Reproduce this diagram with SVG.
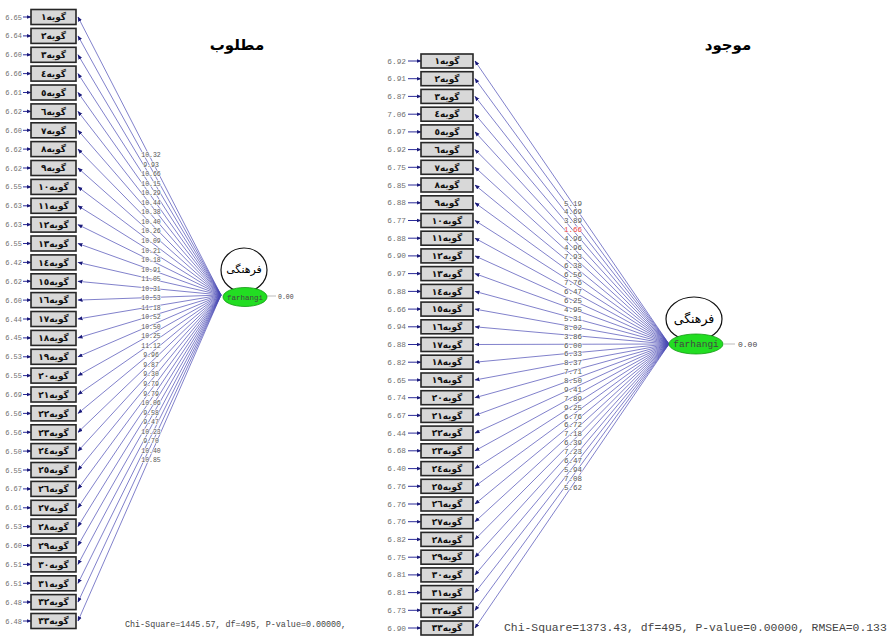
<svg xmlns="http://www.w3.org/2000/svg" width="892" height="637" viewBox="0 0 892 637">
<style>
.bx{fill:#d8d8d8;stroke:#262626;stroke-width:1.6}
.bt{font-family:"DejaVu Sans",sans-serif;font-size:9px;font-weight:bold;text-anchor:middle;fill:#111}
.ev{font-family:"Liberation Mono",monospace;font-size:7px;fill:#707070;text-anchor:end}
.evr{font-family:"Liberation Mono",monospace;font-size:7.8px;fill:#707070;text-anchor:end}
.p{stroke:#4a4ab4;stroke-width:0.7;fill:none;marker-end:url(#ah)}
.e{stroke:#2a2a9a;stroke-width:1;fill:none;marker-end:url(#ah)}
.cf{font-family:"Liberation Mono",monospace;font-size:6.5px;fill:#555;text-anchor:middle;stroke:#fff;stroke-opacity:0.8;stroke-width:1.5;paint-order:stroke}
.cfr{font-family:"Liberation Mono",monospace;font-size:7.5px;fill:#555;text-anchor:middle;stroke:#fff;stroke-opacity:0.8;stroke-width:1.5;paint-order:stroke}
.ttl{font-family:"DejaVu Sans",sans-serif;font-weight:bold;text-anchor:middle;fill:#000}
.lv{font-family:"DejaVu Sans",sans-serif;font-weight:normal;text-anchor:middle;fill:#000}
.lat{fill:#fff;stroke:#111;stroke-width:1.2}
.grn{fill:#22dd22;stroke:#119911;stroke-width:0.8}
.gl{stroke:#aaa;stroke-width:0.8}
.mono{font-family:"Liberation Mono",monospace;fill:#444}
</style>
<defs>
<marker id="ah" viewBox="0 0 10 10" refX="9" refY="5" markerWidth="5" markerHeight="5" orient="auto" markerUnits="userSpaceOnUse"><path d="M0,1 L10,5 L0,9 z" fill="#1a1a7a"/></marker>
</defs>
<rect width="892" height="637" fill="#fff"/>

<text class="ttl" x="237" y="50" font-size="15">مطلوب</text>
<text class="ttl" x="728" y="50" font-size="15">موجود</text>

<g id="connectors">
<g id="paths-left">
<line class="p" x1="221" y1="295" x2="78" y2="17.0"/>
<line class="p" x1="221" y1="295" x2="78" y2="35.9"/>
<line class="p" x1="221" y1="295" x2="78" y2="54.8"/>
<line class="p" x1="221" y1="295" x2="78" y2="73.6"/>
<line class="p" x1="221" y1="295" x2="78" y2="92.5"/>
<line class="p" x1="221" y1="295" x2="78" y2="111.4"/>
<line class="p" x1="221" y1="295" x2="78" y2="130.3"/>
<line class="p" x1="221" y1="295" x2="78" y2="149.1"/>
<line class="p" x1="221" y1="295" x2="78" y2="168.0"/>
<line class="p" x1="221" y1="295" x2="78" y2="186.9"/>
<line class="p" x1="221" y1="295" x2="78" y2="205.8"/>
<line class="p" x1="221" y1="295" x2="78" y2="224.6"/>
<line class="p" x1="221" y1="295" x2="78" y2="243.5"/>
<line class="p" x1="221" y1="295" x2="78" y2="262.4"/>
<line class="p" x1="221" y1="295" x2="78" y2="281.3"/>
<line class="p" x1="221" y1="295" x2="78" y2="300.1"/>
<line class="p" x1="221" y1="295" x2="78" y2="319.0"/>
<line class="p" x1="221" y1="295" x2="78" y2="337.9"/>
<line class="p" x1="221" y1="295" x2="78" y2="356.8"/>
<line class="p" x1="221" y1="295" x2="78" y2="375.6"/>
<line class="p" x1="221" y1="295" x2="78" y2="394.5"/>
<line class="p" x1="221" y1="295" x2="78" y2="413.4"/>
<line class="p" x1="221" y1="295" x2="78" y2="432.3"/>
<line class="p" x1="221" y1="295" x2="78" y2="451.1"/>
<line class="p" x1="221" y1="295" x2="78" y2="470.0"/>
<line class="p" x1="221" y1="295" x2="78" y2="488.9"/>
<line class="p" x1="221" y1="295" x2="78" y2="507.8"/>
<line class="p" x1="221" y1="295" x2="78" y2="526.6"/>
<line class="p" x1="221" y1="295" x2="78" y2="545.5"/>
<line class="p" x1="221" y1="295" x2="78" y2="564.4"/>
<line class="p" x1="221" y1="295" x2="78" y2="583.3"/>
<line class="p" x1="221" y1="295" x2="78" y2="602.1"/>
<line class="p" x1="221" y1="295" x2="78" y2="621.0"/>
</g>
<g id="paths-right">
<line class="p" x1="669" y1="344" x2="475" y2="61.0"/>
<line class="p" x1="669" y1="344" x2="475" y2="78.7"/>
<line class="p" x1="669" y1="344" x2="475" y2="96.4"/>
<line class="p" x1="669" y1="344" x2="475" y2="114.2"/>
<line class="p" x1="669" y1="344" x2="475" y2="131.9"/>
<line class="p" x1="669" y1="344" x2="475" y2="149.6"/>
<line class="p" x1="669" y1="344" x2="475" y2="167.3"/>
<line class="p" x1="669" y1="344" x2="475" y2="185.0"/>
<line class="p" x1="669" y1="344" x2="475" y2="202.8"/>
<line class="p" x1="669" y1="344" x2="475" y2="220.5"/>
<line class="p" x1="669" y1="344" x2="475" y2="238.2"/>
<line class="p" x1="669" y1="344" x2="475" y2="255.9"/>
<line class="p" x1="669" y1="344" x2="475" y2="273.6"/>
<line class="p" x1="669" y1="344" x2="475" y2="291.4"/>
<line class="p" x1="669" y1="344" x2="475" y2="309.1"/>
<line class="p" x1="669" y1="344" x2="475" y2="326.8"/>
<line class="p" x1="669" y1="344" x2="475" y2="344.5"/>
<line class="p" x1="669" y1="344" x2="475" y2="362.2"/>
<line class="p" x1="669" y1="344" x2="475" y2="380.0"/>
<line class="p" x1="669" y1="344" x2="475" y2="397.7"/>
<line class="p" x1="669" y1="344" x2="475" y2="415.4"/>
<line class="p" x1="669" y1="344" x2="475" y2="433.1"/>
<line class="p" x1="669" y1="344" x2="475" y2="450.8"/>
<line class="p" x1="669" y1="344" x2="475" y2="468.6"/>
<line class="p" x1="669" y1="344" x2="475" y2="486.3"/>
<line class="p" x1="669" y1="344" x2="475" y2="504.0"/>
<line class="p" x1="669" y1="344" x2="475" y2="521.7"/>
<line class="p" x1="669" y1="344" x2="475" y2="539.4"/>
<line class="p" x1="669" y1="344" x2="475" y2="557.2"/>
<line class="p" x1="669" y1="344" x2="475" y2="574.9"/>
<line class="p" x1="669" y1="344" x2="475" y2="592.6"/>
<line class="p" x1="669" y1="344" x2="475" y2="610.3"/>
<line class="p" x1="669" y1="344" x2="475" y2="628.0"/>
</g>
<g id="errors-left">
<line class="e" x1="23" y1="17.0" x2="31" y2="17.0"/>
<line class="e" x1="23" y1="35.9" x2="31" y2="35.9"/>
<line class="e" x1="23" y1="54.8" x2="31" y2="54.8"/>
<line class="e" x1="23" y1="73.6" x2="31" y2="73.6"/>
<line class="e" x1="23" y1="92.5" x2="31" y2="92.5"/>
<line class="e" x1="23" y1="111.4" x2="31" y2="111.4"/>
<line class="e" x1="23" y1="130.3" x2="31" y2="130.3"/>
<line class="e" x1="23" y1="149.1" x2="31" y2="149.1"/>
<line class="e" x1="23" y1="168.0" x2="31" y2="168.0"/>
<line class="e" x1="23" y1="186.9" x2="31" y2="186.9"/>
<line class="e" x1="23" y1="205.8" x2="31" y2="205.8"/>
<line class="e" x1="23" y1="224.6" x2="31" y2="224.6"/>
<line class="e" x1="23" y1="243.5" x2="31" y2="243.5"/>
<line class="e" x1="23" y1="262.4" x2="31" y2="262.4"/>
<line class="e" x1="23" y1="281.3" x2="31" y2="281.3"/>
<line class="e" x1="23" y1="300.1" x2="31" y2="300.1"/>
<line class="e" x1="23" y1="319.0" x2="31" y2="319.0"/>
<line class="e" x1="23" y1="337.9" x2="31" y2="337.9"/>
<line class="e" x1="23" y1="356.8" x2="31" y2="356.8"/>
<line class="e" x1="23" y1="375.6" x2="31" y2="375.6"/>
<line class="e" x1="23" y1="394.5" x2="31" y2="394.5"/>
<line class="e" x1="23" y1="413.4" x2="31" y2="413.4"/>
<line class="e" x1="23" y1="432.3" x2="31" y2="432.3"/>
<line class="e" x1="23" y1="451.1" x2="31" y2="451.1"/>
<line class="e" x1="23" y1="470.0" x2="31" y2="470.0"/>
<line class="e" x1="23" y1="488.9" x2="31" y2="488.9"/>
<line class="e" x1="23" y1="507.8" x2="31" y2="507.8"/>
<line class="e" x1="23" y1="526.6" x2="31" y2="526.6"/>
<line class="e" x1="23" y1="545.5" x2="31" y2="545.5"/>
<line class="e" x1="23" y1="564.4" x2="31" y2="564.4"/>
<line class="e" x1="23" y1="583.3" x2="31" y2="583.3"/>
<line class="e" x1="23" y1="602.1" x2="31" y2="602.1"/>
<line class="e" x1="23" y1="621.0" x2="31" y2="621.0"/>
</g>
<g id="errors-right">
<line class="e" x1="408" y1="61.0" x2="421" y2="61.0"/>
<line class="e" x1="408" y1="78.7" x2="421" y2="78.7"/>
<line class="e" x1="408" y1="96.4" x2="421" y2="96.4"/>
<line class="e" x1="408" y1="114.2" x2="421" y2="114.2"/>
<line class="e" x1="408" y1="131.9" x2="421" y2="131.9"/>
<line class="e" x1="408" y1="149.6" x2="421" y2="149.6"/>
<line class="e" x1="408" y1="167.3" x2="421" y2="167.3"/>
<line class="e" x1="408" y1="185.0" x2="421" y2="185.0"/>
<line class="e" x1="408" y1="202.8" x2="421" y2="202.8"/>
<line class="e" x1="408" y1="220.5" x2="421" y2="220.5"/>
<line class="e" x1="408" y1="238.2" x2="421" y2="238.2"/>
<line class="e" x1="408" y1="255.9" x2="421" y2="255.9"/>
<line class="e" x1="408" y1="273.6" x2="421" y2="273.6"/>
<line class="e" x1="408" y1="291.4" x2="421" y2="291.4"/>
<line class="e" x1="408" y1="309.1" x2="421" y2="309.1"/>
<line class="e" x1="408" y1="326.8" x2="421" y2="326.8"/>
<line class="e" x1="408" y1="344.5" x2="421" y2="344.5"/>
<line class="e" x1="408" y1="362.2" x2="421" y2="362.2"/>
<line class="e" x1="408" y1="380.0" x2="421" y2="380.0"/>
<line class="e" x1="408" y1="397.7" x2="421" y2="397.7"/>
<line class="e" x1="408" y1="415.4" x2="421" y2="415.4"/>
<line class="e" x1="408" y1="433.1" x2="421" y2="433.1"/>
<line class="e" x1="408" y1="450.8" x2="421" y2="450.8"/>
<line class="e" x1="408" y1="468.6" x2="421" y2="468.6"/>
<line class="e" x1="408" y1="486.3" x2="421" y2="486.3"/>
<line class="e" x1="408" y1="504.0" x2="421" y2="504.0"/>
<line class="e" x1="408" y1="521.7" x2="421" y2="521.7"/>
<line class="e" x1="408" y1="539.4" x2="421" y2="539.4"/>
<line class="e" x1="408" y1="557.2" x2="421" y2="557.2"/>
<line class="e" x1="408" y1="574.9" x2="421" y2="574.9"/>
<line class="e" x1="408" y1="592.6" x2="421" y2="592.6"/>
<line class="e" x1="408" y1="610.3" x2="421" y2="610.3"/>
<line class="e" x1="408" y1="628.0" x2="421" y2="628.0"/>
</g>
<line class="gl" x1="267" y1="296" x2="276" y2="296"/>
<line class="gl" x1="724" y1="344" x2="735" y2="344"/>
</g>

<g id="coef-left" class="cf">
<text x="151" y="157.2">10.32</text>
<text x="151" y="166.7">9.93</text>
<text x="151" y="176.3">10.66</text>
<text x="151" y="185.8">10.15</text>
<text x="151" y="195.3">10.29</text>
<text x="151" y="204.9">10.44</text>
<text x="151" y="214.4">10.38</text>
<text x="151" y="223.9">10.40</text>
<text x="151" y="233.4">10.26</text>
<text x="151" y="243.0">10.09</text>
<text x="151" y="252.5">10.21</text>
<text x="151" y="262.0">10.18</text>
<text x="151" y="271.6">10.91</text>
<text x="151" y="281.1">11.05</text>
<text x="151" y="290.6">10.31</text>
<text x="151" y="300.2">10.53</text>
<text x="151" y="309.7">11.18</text>
<text x="151" y="319.2">10.52</text>
<text x="151" y="328.7">10.50</text>
<text x="151" y="338.3">10.25</text>
<text x="151" y="347.8">11.12</text>
<text x="151" y="357.3">9.96</text>
<text x="151" y="366.9">9.87</text>
<text x="151" y="376.4">9.30</text>
<text x="151" y="385.9">9.79</text>
<text x="151" y="395.5">9.79</text>
<text x="151" y="405.0">10.06</text>
<text x="151" y="414.5">9.58</text>
<text x="151" y="424.0">9.47</text>
<text x="151" y="433.6">10.23</text>
<text x="151" y="443.1">9.70</text>
<text x="151" y="452.6">10.40</text>
<text x="151" y="462.2">10.85</text>
</g>
<g id="coef-right" class="cfr">
<text x="573" y="205.5">5.19</text>
<text x="573" y="214.4">4.69</text>
<text x="573" y="223.3">3.89</text>
<text x="573" y="232.1" fill="#ee4444">1.66</text>
<text x="573" y="241.0">4.96</text>
<text x="573" y="249.9">4.96</text>
<text x="573" y="258.8">7.93</text>
<text x="573" y="267.6">6.38</text>
<text x="573" y="276.5">6.56</text>
<text x="573" y="285.4">7.76</text>
<text x="573" y="294.3">6.47</text>
<text x="573" y="303.1">6.25</text>
<text x="573" y="312.0">4.95</text>
<text x="573" y="320.9">5.31</text>
<text x="573" y="329.8">8.02</text>
<text x="573" y="338.6">3.86</text>
<text x="573" y="347.5">6.00</text>
<text x="573" y="356.4">6.33</text>
<text x="573" y="365.3">8.37</text>
<text x="573" y="374.1">7.71</text>
<text x="573" y="383.0">8.50</text>
<text x="573" y="391.9">9.41</text>
<text x="573" y="400.8">7.89</text>
<text x="573" y="409.6">9.25</text>
<text x="573" y="418.5">6.76</text>
<text x="573" y="427.4">6.72</text>
<text x="573" y="436.3">7.18</text>
<text x="573" y="445.1">6.39</text>
<text x="573" y="454.0">7.23</text>
<text x="573" y="462.9">6.47</text>
<text x="573" y="471.8">5.94</text>
<text x="573" y="480.6">7.08</text>
<text x="573" y="489.5">5.62</text>
</g>

<g id="L1"><text class="ev" x="22" y="19.5">6.65</text><rect class="bx" x="31" y="9.5" width="45" height="15"/><text class="bt" x="53.5" y="20.2">گویه١</text></g>
<g id="L2"><text class="ev" x="22" y="38.4">6.64</text><rect class="bx" x="31" y="28.4" width="45" height="15"/><text class="bt" x="53.5" y="39.1">گویه٢</text></g>
<g id="L3"><text class="ev" x="22" y="57.3">6.60</text><rect class="bx" x="31" y="47.3" width="45" height="15"/><text class="bt" x="53.5" y="58.0">گویه٣</text></g>
<g id="L4"><text class="ev" x="22" y="76.1">6.66</text><rect class="bx" x="31" y="66.1" width="45" height="15"/><text class="bt" x="53.5" y="76.8">گویه٤</text></g>
<g id="L5"><text class="ev" x="22" y="95.0">6.61</text><rect class="bx" x="31" y="85.0" width="45" height="15"/><text class="bt" x="53.5" y="95.7">گویه٥</text></g>
<g id="L6"><text class="ev" x="22" y="113.9">6.62</text><rect class="bx" x="31" y="103.9" width="45" height="15"/><text class="bt" x="53.5" y="114.6">گویه٦</text></g>
<g id="L7"><text class="ev" x="22" y="132.8">6.60</text><rect class="bx" x="31" y="122.8" width="45" height="15"/><text class="bt" x="53.5" y="133.5">گویه٧</text></g>
<g id="L8"><text class="ev" x="22" y="151.6">6.62</text><rect class="bx" x="31" y="141.6" width="45" height="15"/><text class="bt" x="53.5" y="152.3">گویه٨</text></g>
<g id="L9"><text class="ev" x="22" y="170.5">6.62</text><rect class="bx" x="31" y="160.5" width="45" height="15"/><text class="bt" x="53.5" y="171.2">گویه٩</text></g>
<g id="L10"><text class="ev" x="22" y="189.4">6.55</text><rect class="bx" x="31" y="179.4" width="45" height="15"/><text class="bt" x="53.5" y="190.1">گویه١٠</text></g>
<g id="L11"><text class="ev" x="22" y="208.3">6.63</text><rect class="bx" x="31" y="198.3" width="45" height="15"/><text class="bt" x="53.5" y="209.0">گویه١١</text></g>
<g id="L12"><text class="ev" x="22" y="227.1">6.63</text><rect class="bx" x="31" y="217.1" width="45" height="15"/><text class="bt" x="53.5" y="227.8">گویه١٢</text></g>
<g id="L13"><text class="ev" x="22" y="246.0">6.55</text><rect class="bx" x="31" y="236.0" width="45" height="15"/><text class="bt" x="53.5" y="246.7">گویه١٣</text></g>
<g id="L14"><text class="ev" x="22" y="264.9">6.42</text><rect class="bx" x="31" y="254.9" width="45" height="15"/><text class="bt" x="53.5" y="265.6">گویه١٤</text></g>
<g id="L15"><text class="ev" x="22" y="283.8">6.62</text><rect class="bx" x="31" y="273.8" width="45" height="15"/><text class="bt" x="53.5" y="284.5">گویه١٥</text></g>
<g id="L16"><text class="ev" x="22" y="302.6">6.60</text><rect class="bx" x="31" y="292.6" width="45" height="15"/><text class="bt" x="53.5" y="303.3">گویه١٦</text></g>
<g id="L17"><text class="ev" x="22" y="321.5">6.44</text><rect class="bx" x="31" y="311.5" width="45" height="15"/><text class="bt" x="53.5" y="322.2">گویه١٧</text></g>
<g id="L18"><text class="ev" x="22" y="340.4">6.45</text><rect class="bx" x="31" y="330.4" width="45" height="15"/><text class="bt" x="53.5" y="341.1">گویه١٨</text></g>
<g id="L19"><text class="ev" x="22" y="359.3">6.53</text><rect class="bx" x="31" y="349.3" width="45" height="15"/><text class="bt" x="53.5" y="360.0">گویه١٩</text></g>
<g id="L20"><text class="ev" x="22" y="378.1">6.55</text><rect class="bx" x="31" y="368.1" width="45" height="15"/><text class="bt" x="53.5" y="378.8">گویه٢٠</text></g>
<g id="L21"><text class="ev" x="22" y="397.0">6.69</text><rect class="bx" x="31" y="387.0" width="45" height="15"/><text class="bt" x="53.5" y="397.7">گویه٢١</text></g>
<g id="L22"><text class="ev" x="22" y="415.9">6.56</text><rect class="bx" x="31" y="405.9" width="45" height="15"/><text class="bt" x="53.5" y="416.6">گویه٢٢</text></g>
<g id="L23"><text class="ev" x="22" y="434.8">6.56</text><rect class="bx" x="31" y="424.8" width="45" height="15"/><text class="bt" x="53.5" y="435.5">گویه٢٣</text></g>
<g id="L24"><text class="ev" x="22" y="453.6">6.50</text><rect class="bx" x="31" y="443.6" width="45" height="15"/><text class="bt" x="53.5" y="454.3">گویه٢٤</text></g>
<g id="L25"><text class="ev" x="22" y="472.5">6.55</text><rect class="bx" x="31" y="462.5" width="45" height="15"/><text class="bt" x="53.5" y="473.2">گویه٢٥</text></g>
<g id="L26"><text class="ev" x="22" y="491.4">6.67</text><rect class="bx" x="31" y="481.4" width="45" height="15"/><text class="bt" x="53.5" y="492.1">گویه٢٦</text></g>
<g id="L27"><text class="ev" x="22" y="510.3">6.61</text><rect class="bx" x="31" y="500.3" width="45" height="15"/><text class="bt" x="53.5" y="511.0">گویه٢٧</text></g>
<g id="L28"><text class="ev" x="22" y="529.1">6.53</text><rect class="bx" x="31" y="519.1" width="45" height="15"/><text class="bt" x="53.5" y="529.8">گویه٢٨</text></g>
<g id="L29"><text class="ev" x="22" y="548.0">6.60</text><rect class="bx" x="31" y="538.0" width="45" height="15"/><text class="bt" x="53.5" y="548.7">گویه٢٩</text></g>
<g id="L30"><text class="ev" x="22" y="566.9">6.51</text><rect class="bx" x="31" y="556.9" width="45" height="15"/><text class="bt" x="53.5" y="567.6">گویه٣٠</text></g>
<g id="L31"><text class="ev" x="22" y="585.8">6.51</text><rect class="bx" x="31" y="575.8" width="45" height="15"/><text class="bt" x="53.5" y="586.5">گویه٣١</text></g>
<g id="L32"><text class="ev" x="22" y="604.6">6.48</text><rect class="bx" x="31" y="594.6" width="45" height="15"/><text class="bt" x="53.5" y="605.3">گویه٣٢</text></g>
<g id="L33"><text class="ev" x="22" y="623.5">6.48</text><rect class="bx" x="31" y="613.5" width="45" height="15"/><text class="bt" x="53.5" y="624.2">گویه٣٣</text></g>

<g id="R1"><text class="evr" x="406" y="63.5">6.92</text><rect class="bx" x="421" y="54.0" width="52" height="14"/><text class="bt" x="447" y="64.2">گویه١</text></g>
<g id="R2"><text class="evr" x="406" y="81.2">6.91</text><rect class="bx" x="421" y="71.7" width="52" height="14"/><text class="bt" x="447" y="81.9">گویه٢</text></g>
<g id="R3"><text class="evr" x="406" y="98.9">6.87</text><rect class="bx" x="421" y="89.4" width="52" height="14"/><text class="bt" x="447" y="99.6">گویه٣</text></g>
<g id="R4"><text class="evr" x="406" y="116.7">7.06</text><rect class="bx" x="421" y="107.2" width="52" height="14"/><text class="bt" x="447" y="117.4">گویه٤</text></g>
<g id="R5"><text class="evr" x="406" y="134.4">6.97</text><rect class="bx" x="421" y="124.9" width="52" height="14"/><text class="bt" x="447" y="135.1">گویه٥</text></g>
<g id="R6"><text class="evr" x="406" y="152.1">6.92</text><rect class="bx" x="421" y="142.6" width="52" height="14"/><text class="bt" x="447" y="152.8">گویه٦</text></g>
<g id="R7"><text class="evr" x="406" y="169.8">6.75</text><rect class="bx" x="421" y="160.3" width="52" height="14"/><text class="bt" x="447" y="170.5">گویه٧</text></g>
<g id="R8"><text class="evr" x="406" y="187.5">6.85</text><rect class="bx" x="421" y="178.0" width="52" height="14"/><text class="bt" x="447" y="188.2">گویه٨</text></g>
<g id="R9"><text class="evr" x="406" y="205.3">6.88</text><rect class="bx" x="421" y="195.8" width="52" height="14"/><text class="bt" x="447" y="206.0">گویه٩</text></g>
<g id="R10"><text class="evr" x="406" y="223.0">6.77</text><rect class="bx" x="421" y="213.5" width="52" height="14"/><text class="bt" x="447" y="223.7">گویه١٠</text></g>
<g id="R11"><text class="evr" x="406" y="240.7">6.88</text><rect class="bx" x="421" y="231.2" width="52" height="14"/><text class="bt" x="447" y="241.4">گویه١١</text></g>
<g id="R12"><text class="evr" x="406" y="258.4">6.90</text><rect class="bx" x="421" y="248.9" width="52" height="14"/><text class="bt" x="447" y="259.1">گویه١٢</text></g>
<g id="R13"><text class="evr" x="406" y="276.1">6.97</text><rect class="bx" x="421" y="266.6" width="52" height="14"/><text class="bt" x="447" y="276.8">گویه١٣</text></g>
<g id="R14"><text class="evr" x="406" y="293.9">6.88</text><rect class="bx" x="421" y="284.4" width="52" height="14"/><text class="bt" x="447" y="294.6">گویه١٤</text></g>
<g id="R15"><text class="evr" x="406" y="311.6">6.66</text><rect class="bx" x="421" y="302.1" width="52" height="14"/><text class="bt" x="447" y="312.3">گویه١٥</text></g>
<g id="R16"><text class="evr" x="406" y="329.3">6.94</text><rect class="bx" x="421" y="319.8" width="52" height="14"/><text class="bt" x="447" y="330.0">گویه١٦</text></g>
<g id="R17"><text class="evr" x="406" y="347.0">6.88</text><rect class="bx" x="421" y="337.5" width="52" height="14"/><text class="bt" x="447" y="347.7">گویه١٧</text></g>
<g id="R18"><text class="evr" x="406" y="364.7">6.82</text><rect class="bx" x="421" y="355.2" width="52" height="14"/><text class="bt" x="447" y="365.4">گویه١٨</text></g>
<g id="R19"><text class="evr" x="406" y="382.5">6.65</text><rect class="bx" x="421" y="373.0" width="52" height="14"/><text class="bt" x="447" y="383.2">گویه١٩</text></g>
<g id="R20"><text class="evr" x="406" y="400.2">6.74</text><rect class="bx" x="421" y="390.7" width="52" height="14"/><text class="bt" x="447" y="400.9">گویه٢٠</text></g>
<g id="R21"><text class="evr" x="406" y="417.9">6.67</text><rect class="bx" x="421" y="408.4" width="52" height="14"/><text class="bt" x="447" y="418.6">گویه٢١</text></g>
<g id="R22"><text class="evr" x="406" y="435.6">6.44</text><rect class="bx" x="421" y="426.1" width="52" height="14"/><text class="bt" x="447" y="436.3">گویه٢٢</text></g>
<g id="R23"><text class="evr" x="406" y="453.3">6.68</text><rect class="bx" x="421" y="443.8" width="52" height="14"/><text class="bt" x="447" y="454.0">گویه٢٣</text></g>
<g id="R24"><text class="evr" x="406" y="471.1">6.40</text><rect class="bx" x="421" y="461.6" width="52" height="14"/><text class="bt" x="447" y="471.8">گویه٢٤</text></g>
<g id="R25"><text class="evr" x="406" y="488.8">6.76</text><rect class="bx" x="421" y="479.3" width="52" height="14"/><text class="bt" x="447" y="489.5">گویه٢٥</text></g>
<g id="R26"><text class="evr" x="406" y="506.5">6.76</text><rect class="bx" x="421" y="497.0" width="52" height="14"/><text class="bt" x="447" y="507.2">گویه٢٦</text></g>
<g id="R27"><text class="evr" x="406" y="524.2">6.76</text><rect class="bx" x="421" y="514.7" width="52" height="14"/><text class="bt" x="447" y="524.9">گویه٢٧</text></g>
<g id="R28"><text class="evr" x="406" y="541.9">6.82</text><rect class="bx" x="421" y="532.4" width="52" height="14"/><text class="bt" x="447" y="542.6">گویه٢٨</text></g>
<g id="R29"><text class="evr" x="406" y="559.7">6.75</text><rect class="bx" x="421" y="550.2" width="52" height="14"/><text class="bt" x="447" y="560.4">گویه٢٩</text></g>
<g id="R30"><text class="evr" x="406" y="577.4">6.81</text><rect class="bx" x="421" y="567.9" width="52" height="14"/><text class="bt" x="447" y="578.1">گویه٣٠</text></g>
<g id="R31"><text class="evr" x="406" y="595.1">6.81</text><rect class="bx" x="421" y="585.6" width="52" height="14"/><text class="bt" x="447" y="595.8">گویه٣١</text></g>
<g id="R32"><text class="evr" x="406" y="612.8">6.73</text><rect class="bx" x="421" y="603.3" width="52" height="14"/><text class="bt" x="447" y="613.5">گویه٣٢</text></g>
<g id="R33"><text class="evr" x="406" y="630.5">6.90</text><rect class="bx" x="421" y="621.0" width="52" height="14"/><text class="bt" x="447" y="631.2">گویه٣٣</text></g>

<g id="farhangi-left">
<ellipse class="lat" cx="244" cy="270" rx="23" ry="22"/>
<text class="lv" x="244" y="273" font-size="11">فرهنگی</text>
<ellipse class="grn" cx="245" cy="297" rx="22" ry="9.5"/>
<text class="mono" x="245" y="299.5" font-size="7.5" text-anchor="middle" fill="#113311">farhangi</text>
<text class="mono" x="278" y="298.5" font-size="6.5" fill="#888">0.00</text>
</g>
<g id="farhangi-right">
<ellipse class="lat" cx="694" cy="319" rx="28" ry="22"/>
<text class="lv" x="694" y="323" font-size="12.5">فرهنگی</text>
<ellipse class="grn" cx="696" cy="344" rx="27" ry="10"/>
<text class="mono" x="696" y="347" font-size="9.5" text-anchor="middle" fill="#113311">farhangi</text>
<text class="mono" x="738" y="347" font-size="8" fill="#888">0.00</text>
</g>

<text class="mono" x="125" y="627" font-size="8.4">Chi-Square=1445.57, df=495, P-value=0.00000,</text>
<text class="mono" x="504" y="631" font-size="11.4">Chi-Square=1373.43, df=495, P-value=0.00000, RMSEA=0.133</text>
</svg>
